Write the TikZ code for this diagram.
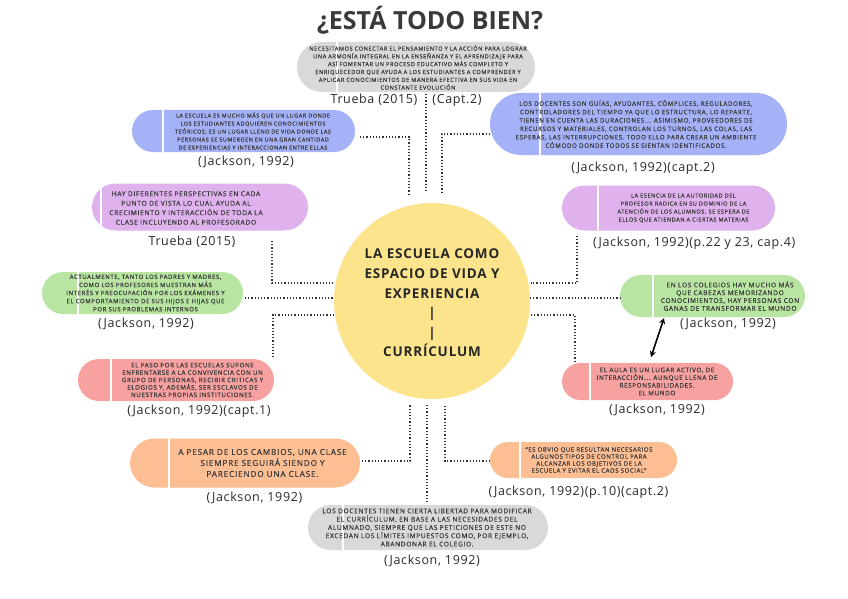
\documentclass[tikz,border=0pt]{standalone}
\usepackage{fontspec}
\setmainfont{Open Sans}
\newfontfamily\boxfont[LetterSpace=10,FakeBold=0.4]{Open Sans}
\newfontfamily\citefont[LetterSpace=5]{Open Sans}
\newfontfamily\circfont[LetterSpace=6]{Open Sans}
\usetikzlibrary{shapes.misc,arrows.meta}
\definecolor{cgray}{HTML}{D9D9D9}
\definecolor{cblue}{HTML}{A6B2F8}
\definecolor{cpurple}{HTML}{DFB2EE}
\definecolor{cgreen}{HTML}{B8E6A2}
\definecolor{cred}{HTML}{F7A1A1}
\definecolor{corange}{HTML}{FDBE94}
\definecolor{cyellow}{HTML}{FCE48C}
\definecolor{txt}{HTML}{3A3A3A}
\definecolor{citec}{HTML}{2A2A2A}
\definecolor{dotc}{HTML}{333333}
\tikzset{
  pill/.style={rounded rectangle, draw=none, inner sep=0pt},
  bt/.style 2 args={font=\boxfont\fontsize{#1}{#2}\selectfont, align=center, text=txt, inner sep=0pt},
  cite/.style={font=\citefont\fontsize{12.5}{14}\selectfont, text=citec, inner sep=0pt},
  conn/.style={dotted, line width=1.2pt, draw=dotc},
  sepline/.style={draw=white, line width=1.3pt},
}
\begin{document}
\begin{tikzpicture}[x=1pt,y=-1pt]
\useasboundingbox (0,0) rectangle (848,599);
\fill[white] (0,0) rectangle (848,599);

% title
\node[font=\bfseries\fontsize{25}{28}\selectfont, text=txt] (title) at (430,20) {¿ESTÁ TODO BIEN?};

% central circle
\node[circle, fill=cyellow, minimum size=196pt, inner sep=0pt] (c) at (432,301) {};
\node[font=\circfont\bfseries\fontsize{13.5}{19.6}\selectfont, align=center, text=black!85] (ctext) at (432,303)
  {LA ESCUELA COMO\\ESPACIO DE VIDA Y\\EXPERIENCIA\\|\\|\\CURRÍCULUM};

% ---- top gray
\node[pill, fill=cgray, minimum width=238pt, minimum height=50pt] (g1) at (416,67) {};
\draw[sepline] (337,42) -- (337,92);
\node[bt={5.65}{7.8}] (g1t) at (418,67.5) {NECESITAMOS CONECTAR EL PENSAMIENTO Y LA ACCIÓN PARA LOGRAR\\
UNA ARMONÍA INTEGRAL EN LA ENSEÑANZA Y EL APRENDIZAJE PARA\\
ASÍ FOMENTAR UN PROCESO EDUCATIVO MÁS COMPLETO Y\\
ENRIQUECEDOR QUE AYUDA A LOS ESTUDIANTES A COMPRENDER Y\\
APLICAR CONOCIMIENTOS DE MANERA EFECTIVA EN SUS VIDA EN\\
CONSTANTE EVOLUCIÓN};
\node[cite] (g1c) at (374,100) {Trueba (2015)};
\node[cite] (g1d) at (457,100) {(Capt.2)};

% ---- left blue
\node[pill, fill=cblue, minimum width=223pt, minimum height=42pt] (b1) at (243.5,131) {};
\draw[sepline] (163,110) -- (163,152);
\node[bt={5.5}{8}] (b1t) at (253,131) {LA ESCUELA ES MUCHO MÁS QUE UN LUGAR DONDE\\
LOS ESTUDIANTES ADQUIEREN CONOCIMIENTOS\\
TEÓRICOS; ES UN LUGAR LLENO DE VIDA DONDE LAS\\
PERSONAS SE SUMERGEN EN UNA GRAN CANTIDAD\\
DE EXPERIENCIAS Y INTERACCIONAN ENTRE ELLAS};
\node[cite] (b1c) at (246,162) {(Jackson, 1992)};

% ---- right blue
\node[pill, fill=cblue, minimum width=297pt, minimum height=62pt] (b2) at (638.5,124) {};
\draw[sepline] (540,93) -- (540,155);
\node[bt={6.2}{8.4}] (b2t) at (636,124) {LOS DOCENTES SON GUÍAS, AYUDANTES, CÓMPLICES, REGULADORES,\\
CONTROLADORES DEL TIEMPO YA QUE LO ESTRUCTURA, LO REPARTE,\\
TIENEN EN CUENTA LAS DURACIONES... ASIMISMO, PROVEEDORES DE\\
RECURSOS Y MATERIALES, CONTROLAN LOS TURNOS, LAS COLAS, LAS\\
ESPERAS, LAS INTERRUPCIONES. TODO ELLO PARA CREAR UN AMBIENTE\\
CÓMODO DONDE TODOS SE SIENTAN IDENTIFICADOS.};
\node[cite] (b2c) at (643,168) {(Jackson, 1992)(capt.2)};

% ---- left purple
\node[pill, fill=cpurple, minimum width=216pt, minimum height=47pt] (p1) at (200,207) {};
\draw[sepline] (101,184) -- (101,231);
\node[bt={6.7}{9.5}] (p1t) at (186,208) {HAY DIFERENTES PERSPECTIVAS EN CADA\\
PUNTO DE VISTA LO CUAL AYUDA AL\\
CRECIMIENTO Y INTERACCIÓN DE TODA LA\\
CLASE INCLUYENDO AL PROFESORADO};
\node[cite] (p1c) at (192,242) {Trueba (2015)};

% ---- right purple
\node[pill, fill=cpurple, minimum width=213pt, minimum height=45pt] (p2) at (668.5,208) {};
\draw[sepline] (598,186) -- (598,230);
\node[bt={5.6}{8}] (p2t) at (683.5,208) {LA ESENCIA DE LA AUTORIDAD DEL\\
PROFESOR RADICA EN SU DOMINIO DE LA\\
ATENCIÓN DE LOS ALUMNOS. SE ESPERA DE\\
ELLOS QUE ATIENDAN A CIERTAS MATERIAS};
\node[cite, anchor=west] (p2c) at (593,243) {(Jackson, 1992)(p.22 y 23, cap.4)};

% ---- left green
\node[pill, fill=cgreen, minimum width=201pt, minimum height=42pt] (gr1) at (142.5,293) {};
\draw[sepline] (78,272) -- (78,314);
\node[bt={6.0}{8.1}] (gr1t) at (145.5,293) {ACTUALMENTE, TANTO LOS PADRES Y MADRES,\\
COMO LOS PROFESORES MUESTRAN MÁS\\
INTERÉS Y PREOCUPACIÓN POR LOS EXÁMENES Y\\
EL COMPORTAMIENTO DE SUS HIJOS E HIJAS QUE\\
POR SUS PROBLEMAS INTERNOS};
\node[cite] (gr1c) at (146,324) {(Jackson, 1992)};

% ---- right green
\node[pill, fill=cgreen, minimum width=185pt, minimum height=42pt] (gr2) at (712.5,296) {};
\draw[sepline] (653,275) -- (653,317);
\node[bt={6.6}{7.8}] (gr2t) at (730,296) {EN LOS COLEGIOS HAY MUCHO MÁS\\
QUE CABEZAS MEMORIZANDO\\
CONOCIMIENTOS, HAY PERSONAS CON\\
GANAS DE TRANSFORMAR EL MUNDO};
\node[cite] (gr2c) at (728,324) {(Jackson, 1992)};

% ---- left red
\node[pill, fill=cred, minimum width=196pt, minimum height=42pt] (r1) at (176,380) {};
\draw[sepline] (111,359) -- (111,401);
\node[bt={6.2}{7.4}] (r1t) at (192.5,380) {EL PASO POR LAS ESCUELAS SUPONE\\
ENFRENTARSE A LA CONVIVENCIA CON UN\\
GRUPO DE PERSONAS, RECIBIR CRITICAS Y\\
ELOGIOS Y, ADEMÁS, SER ESCLAVOS DE\\
NUESTRAS PROPIAS INSTITUCIONES.};
\node[cite] (r1c) at (199,411) {(Jackson, 1992)(capt.1)};

% ---- right red
\node[pill, fill=cred, minimum width=171pt, minimum height=37pt] (r2) at (647.5,381.5) {};
\draw[sepline] (590,363) -- (590,400);
\node[bt={6.3}{7.7}] (r2t) at (657,381.5) {EL AULA ES UN LUGAR ACTIVO, DE\\
INTERACCIÓN... AUNQUE LLENA DE\\
RESPONSABILIDADES.\\
EL MUNDO};
\node[cite] (r2c) at (657,410) {(Jackson, 1992)};

% ---- left orange
\node[pill, fill=corange, minimum width=230pt, minimum height=49pt] (o1) at (245,463) {};
\draw[sepline] (169,439) -- (169,488);
\node[bt={8.2}{11}] (o1t) at (262.5,463) {A PESAR DE LOS CAMBIOS, UNA CLASE\\
SIEMPRE SEGUIRÁ SIENDO Y\\
PARECIENDO UNA CLASE.};
\node[cite] (o1c) at (254.5,498) {(Jackson, 1992)};

% ---- right orange
\node[pill, fill=corange, minimum width=187pt, minimum height=36pt] (o2) at (583.5,460) {};
\draw[sepline] (520,442) -- (520,478);
\node[bt={6.0}{7}] (o2t) at (589,460) {“ES OBVIO QUE RESULTAN NECESARIOS\\
ALGUNOS TIPOS DE CONTROL PARA\\
ALCANZAR LOS OBJETIVOS DE LA\\
ESCUELA Y EVITAR EL CAOS SOCIAL”};
\node[cite] (o2c) at (578.5,492) {(Jackson, 1992)(p.10)(capt.2)};

% ---- bottom gray
\node[pill, fill=cgray, minimum width=240pt, minimum height=45pt] (g2) at (428,527.5) {};
\draw[sepline] (343,505) -- (343,550);
\node[bt={6.6}{8.3}] (g2t) at (427,527.5) {LOS DOCENTES TIENEN CIERTA LIBERTAD PARA MODIFICAR\\
EL CURRÍCULUM, EN BASE A LAS NECESIDADES DEL\\
ALUMNADO, SIEMPRE QUE LAS PETICIONES DE ESTE NO\\
EXCEDAN LOS LÍMITES IMPUESTOS COMO, POR EJEMPLO,\\
ABANDONAR EL COLEGIO.};
\node[cite] (g2c) at (432,561) {(Jackson, 1992)};

% ---- connectors
\coordinate (kt1) at (426,94);
\coordinate (kt2) at (426,192);
\draw[conn] (kt1) -- (kt2);

\coordinate (kb1a) at (360,137);
\coordinate (kb1) at (409,196);
\draw[conn] (kb1a) -| (kb1);
\coordinate (kb2a) at (490,134);
\coordinate (kb2) at (442,192);
\draw[conn] (kb2a) -| (kb2);

\coordinate (kp1a) at (272,241);
\coordinate (kp1b) at (333,283);
\draw[conn] (kp1a) |- (kp1b);
\coordinate (kp2a) at (577,236);
\coordinate (kp2b) at (531,283);
\draw[conn] (kp2a) |- (kp2b);

\coordinate (kg1a) at (245,298);
\coordinate (kg1) at (334,298);
\draw[conn] (kg1a) -- (kg1);
\coordinate (kg2) at (530,298);
\coordinate (kg2b) at (620,298);
\draw[conn] (kg2) -- (kg2b);

\coordinate (kr1a) at (334,315);
\coordinate (kr1b) at (273,357);
\draw[conn] (kr1a) -| (kr1b);
\coordinate (kr2a) at (531,315);
\coordinate (kr2b) at (575,361);
\draw[conn] (kr2a) -| (kr2b);

\coordinate (ko1a) at (362,461);
\coordinate (ko1) at (410,405);
\draw[conn] (ko1a) -| (ko1);
\coordinate (ko2a) at (490,461);
\coordinate (ko2) at (445,405);
\draw[conn] (ko2a) -| (ko2);

\coordinate (kg2a) at (427,405);
\coordinate (kg2b) at (427,504);
\draw[conn] (kg2a) -- (kg2b);

% double arrow
\coordinate (ar1) at (664,318);
\coordinate (ar2) at (651,357);
\draw[{Stealth[length=6pt,width=6pt]}-{Stealth[length=6pt,width=6pt]}, line width=1.6pt, black] (ar1) -- (ar2);
\end{tikzpicture}
\end{document}
